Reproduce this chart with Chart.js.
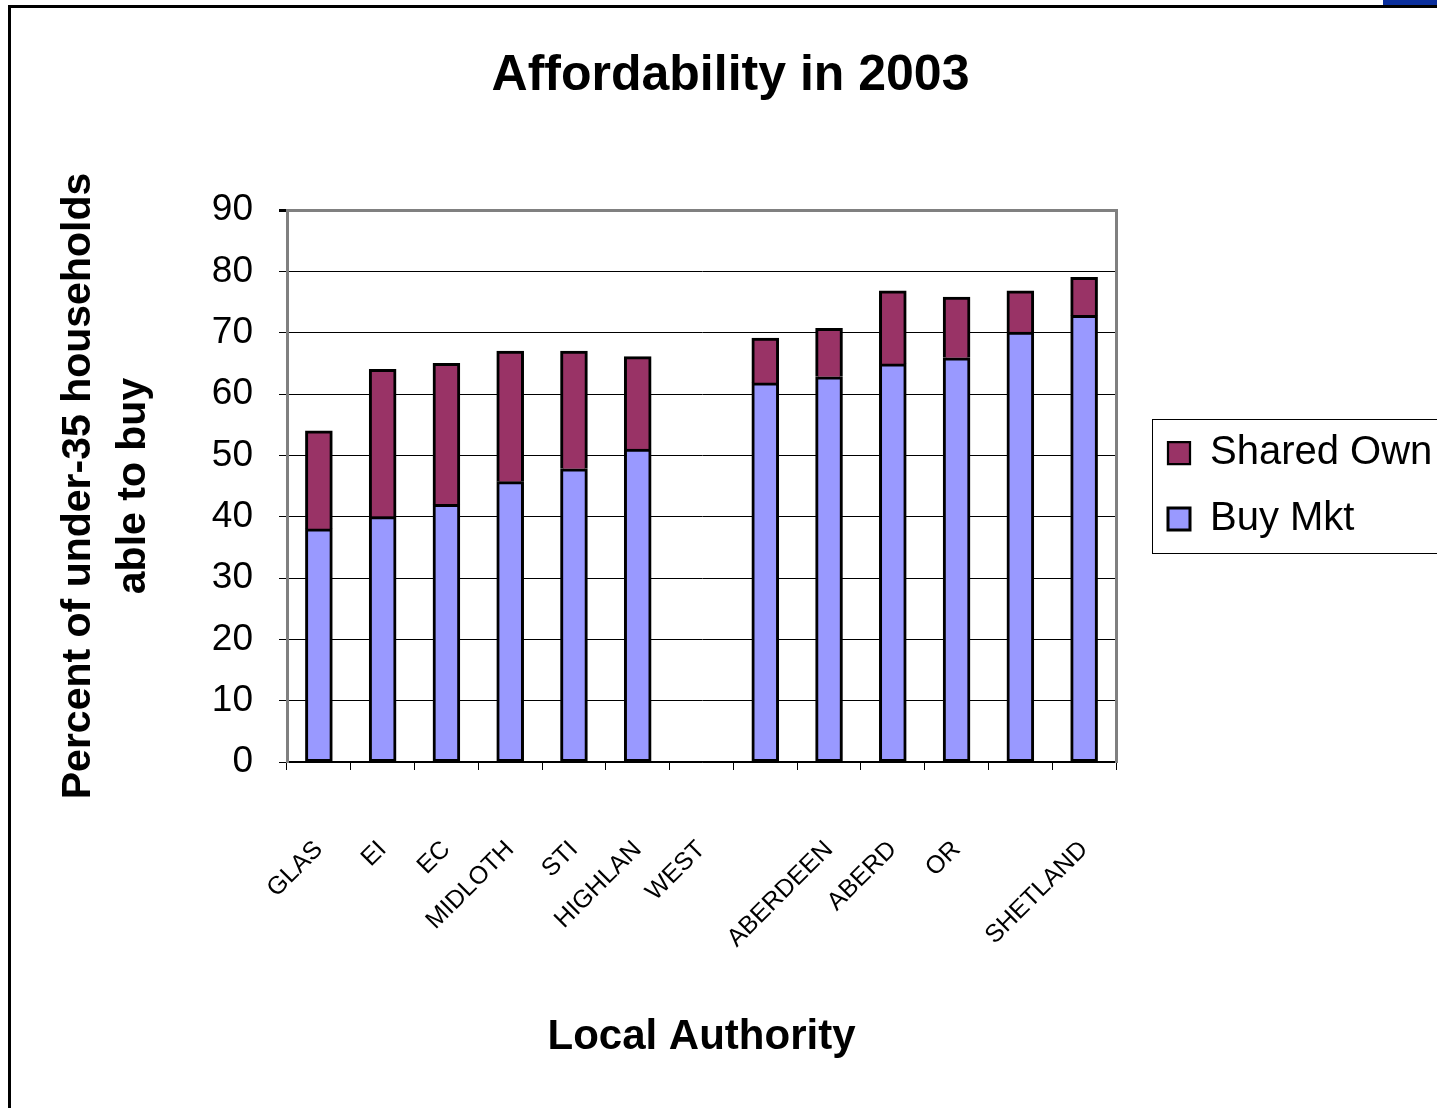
<!DOCTYPE html>
<html>
<head>
<meta charset="utf-8">
<script src="https://cdn.jsdelivr.net/npm/chart.js@4.4.0/dist/chart.umd.min.js"></script>
<style>
html,body{margin:0;padding:0;background:#fff;width:1437px;height:1108px;overflow:hidden;}
#wrap{position:relative;width:1437px;height:1108px;}
canvas{position:absolute;left:0;top:0;}
#frame{position:absolute;left:8px;top:5px;width:1440px;height:1110px;border-left:3px solid #000;border-top:3px solid #000;pointer-events:none;}
#blue{position:absolute;left:1383px;top:0;width:54px;height:5px;background:#0b2f9c;}
</style>
</head>
<body>
<div id="wrap">
  <canvas id="c" width="1437" height="1108"></canvas>
  <div id="frame"></div>
  <div id="blue"></div>
</div>
<script>
// ---- data ----
const chartTitle = 'Affordability in 2003';
const xTitle = 'Local Authority';
const yTitle = ['Percent of under-35 households', 'able to buy'];
const categories = ['GLAS', 'EI', 'EC', 'MIDLOTH', 'STI', 'HIGHLAN', 'WEST', '', 'ABERDEEN', 'ABERD', 'OR', '', 'SHETLAND'];
const buyMkt    = [38, 40, 42, 45.7, 47.8, 51, null, 61.8, 62.8, 64.9, 65.9, 70.1, 72.8];
const sharedOwn = [16, 24, 23, 21.3, 19.2, 15.1, null, 7.3, 7.9, 11.9, 9.9, 6.7, 6.2];
const yTickValues = [0, 10, 20, 30, 40, 50, 60, 70, 80, 90];

// ---- layout helpers (styles only) ----
const PLOT_LEFT = 287, PLOT_BOTTOM = 762, W = 1437, H = 1108;
const PAD_LEFT = 24;
const LEGEND_W = 295;

const legendFrame = {
  id: 'legendFrame',
  beforeInit(chart) {
    const lg = chart.legend;
    if (lg) {
      const f = lg.fit;
      lg.fit = function () { f.call(this); this.width = LEGEND_W; };
    }
  },
  afterDraw(chart) {
    const lg = chart.legend;
    if (!lg) return;
    const pad = 26, colH = 2 * (40 + pad);
    const startY = ((lg.top + pad) + (lg.bottom - colH)) / 2;
    const c1 = startY + 20, c2 = c1 + 40 + pad;
    const ctx = chart.ctx;
    ctx.save();
    ctx.strokeStyle = '#000';
    ctx.lineWidth = 1;
    ctx.strokeRect(lg.left + 10.5, Math.round(c1 - 34) + 0.5, 400, Math.round(c2 - c1 + 68));
    ctx.restore();
  }
};

new Chart(document.getElementById('c'), {
  type: 'bar',
  data: {
    labels: categories,
    datasets: [
      { label: 'Buy Mkt', data: buyMkt, backgroundColor: '#9999FF', borderColor: '#000',
        borderWidth: 3, borderSkipped: false, inflateAmount: 0.4 },
      { label: 'Shared Own', data: sharedOwn, backgroundColor: '#993366', borderColor: '#000',
        borderWidth: { top: 3, left: 3, right: 3, bottom: 0 }, borderSkipped: false, inflateAmount: 0.4 }
    ]
  },
  plugins: [legendFrame],
  options: {
    responsive: false,
    animation: false,
    devicePixelRatio: 1,
    layout: { padding: { left: PAD_LEFT, right: 0, top: 0, bottom: 0 } },
    datasets: { bar: { categoryPercentage: 1, barPercentage: 0.42 } },
    plugins: {
      tooltip: { enabled: false },
      title: {
        display: true, text: chartTitle, color: '#000',
        font: { family: 'Liberation Sans, Arial, sans-serif', size: 50, weight: 'bold', lineHeight: 1.2 },
        padding: { top: 46, bottom: 104 }
      },
      legend: {
        position: 'right', fullSize: false, reverse: true,
        labels: {
          color: '#000', boxWidth: 22, boxHeight: 22, padding: 26,
          font: { family: 'Liberation Sans, Arial, sans-serif', size: 40 }
        }
      }
    },
    scales: {
      x: {
        stacked: true,
        afterFit: s => { s.height = H - PLOT_BOTTOM; },
        grid: { display: true, drawOnChartArea: false, offset: true, tickLength: 8, color: '#000', lineWidth: 1 },
        border: { display: true, color: '#000', width: 1.5 },
        ticks: {
          autoSkip: false, minRotation: 45, maxRotation: 45, padding: 65, color: '#000',
          font: { family: 'Liberation Sans, Arial, sans-serif', size: 25 }
        },
        title: {
          display: true, text: xTitle, color: '#000',
          font: { family: 'Liberation Sans, Arial, sans-serif', size: 42, weight: 'bold', lineHeight: 1.2 },
          padding: { top: 0, bottom: 45 }
        }
      },
      y: {
        stacked: true, min: 0, max: 90,
        afterFit: s => { s.width = PLOT_LEFT - PAD_LEFT; },
        afterBuildTicks: s => { s.ticks = yTickValues.map(v => ({ value: v })); },
        grid: {
          tickLength: 8,
          color: c => (c.tick && c.tick.value === 90) ? '#808080' : '#000',
          lineWidth: c => (c.tick && c.tick.value === 90) ? 3 : 1,
          tickColor: '#000'
        },
        border: { display: true, color: '#808080', width: 3 },
        ticks: {
          padding: 26, color: '#000',
          font: { family: 'Liberation Sans, Arial, sans-serif', size: 37 }
        },
        title: {
          display: true, text: yTitle, color: '#000',
          font: { family: 'Liberation Sans, Arial, sans-serif', size: 41, weight: 'bold', lineHeight: 1.34 },
          padding: { top: 27, bottom: 0 }
        }
      },
      y2: {
        position: 'right', display: true,
        afterFit: s => { s.width = 26; },
        grid: { display: false },
        ticks: { display: false },
        border: { display: true, color: '#808080', width: 3 }
      }
    }
  }
});
</script>
</body>
</html>
